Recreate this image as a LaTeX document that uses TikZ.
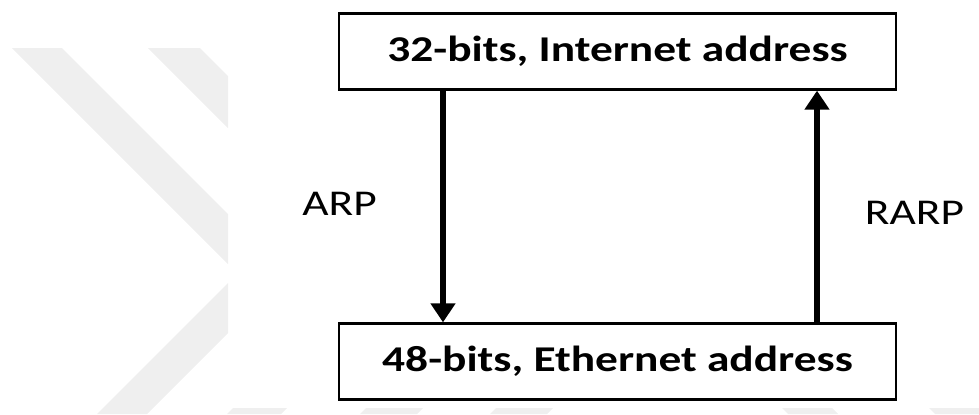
\documentclass[tikz,border=0pt]{standalone}
\usepackage{fontspec}
\setmainfont{Carlito}
\usepackage{graphicx}
\usepackage{tikz}
\usetikzlibrary{calc}
\usetikzlibrary{arrows.meta}
\definecolor{filigrane}{HTML}{EFEFEF}
\newcommand{\etire}[1]{\scalebox{1.25}[1]{#1}}

\begin{document}
\begin{tikzpicture}[x=0.03cm,y=-0.03cm,
    boite/.style={draw,line width=2pt,minimum width=16.71cm,minimum height=2.28cm,inner sep=0pt,
        font=\fontsize{31}{37}\selectfont\bfseries},
    fleche/.style={line width=5pt,-{Triangle[width=0.72cm,length=0.57cm]}},
    etiquette/.style={font=\fontsize{31}{37}\selectfont}]
            \useasboundingbox (0,0) rectangle (979,414);
                % filigrane
                \fill[filigrane] (12,48) -- (62,48) -- (228,214) -- (228,264) -- cycle;
                \fill[filigrane] (148,48) -- (200,48) -- (228,76) -- (228,128) -- cycle;
                \fill[filigrane] (97,414) -- (147,414) -- (228,333) -- (228,283) -- cycle;
                \fill[filigrane] (233,408) -- (287,408) -- (281,414) -- (227,414) -- cycle;
                \fill[filigrane] (366,408) -- (423,408) -- (417,414) -- (360,414) -- cycle;
                \fill[filigrane] (496,408) -- (553,408) -- (547,414) -- (490,414) -- cycle;
                \fill[filigrane] (782,408) -- (832,408) -- (838,414) -- (788,414) -- cycle;
                \fill[filigrane] (929,408) -- (979,408) -- (979,414) -- (935,414) -- cycle;
                % boites
                \node[boite] (ip) at (617.5,51.5) {\etire{32-bits, Internet address}};
                \node[boite] (eth) at (617.5,361.5) {\etire{48-bits, Ethernet address}};
                \coordinate (xarp) at (443,0);
                \coordinate (xrarp) at (817,0);
                \draw[fleche] (xarp |- ip.south) -- (xarp |- eth.north);
                \draw[fleche] (xrarp |- eth.north) -- (xrarp |- ip.south);
                \node[etiquette] (arp) at (339.5,204) {\etire{ARP}};
                \node[etiquette] (rarp) at (914.5,213) {\etire{RARP}};
            \end{tikzpicture}
\end{document}
